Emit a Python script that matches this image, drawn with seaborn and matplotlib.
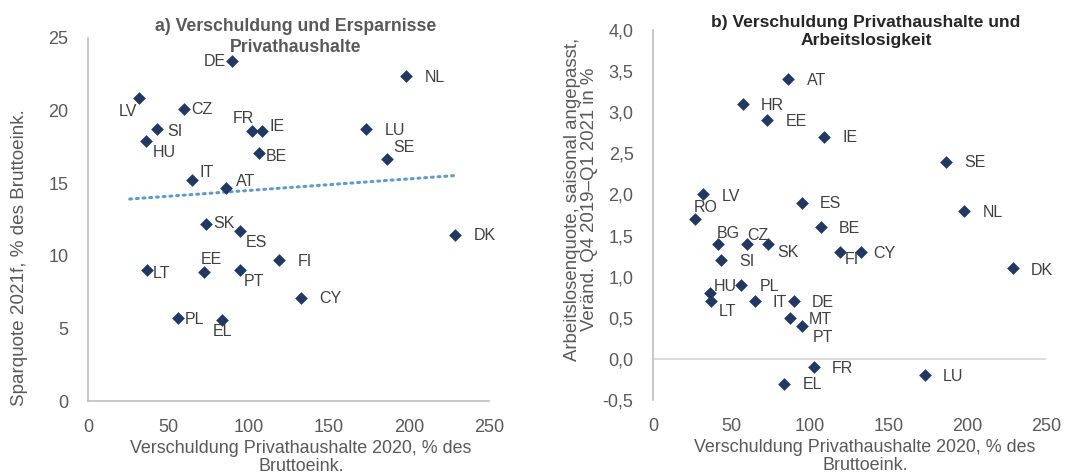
import numpy as np
import pandas as pd
import matplotlib
matplotlib.use("Agg")
import matplotlib.pyplot as plt
from matplotlib.ticker import FuncFormatter
import seaborn as sns

# ---------------- data ----------------
# Panel a) household debt 2020 (% of gross income) vs saving rate 2021f
a_countries = ["DE", "NL", "LV", "CZ", "SI", "HU", "FR", "IE", "LU", "SE", "BE", "IT",
               "AT", "SK", "ES", "DK", "FI", "LT", "EE", "PT", "CY", "PL", "EL"]
a_debt = [89.5, 198.0, 32.0, 59.7, 43.3, 36.0, 102.3, 108.7, 173.3, 186.3, 106.7, 64.9,
          85.8, 73.4, 94.7, 228.7, 118.8, 36.7, 72.6, 94.8, 132.6, 56.0, 83.6]
a_saving = [23.4, 22.4, 20.9, 20.1, 18.7, 17.9, 18.6, 18.6, 18.7, 16.7, 17.1, 15.2,
            14.7, 12.2, 11.7, 11.4, 9.7, 9.0, 8.9, 9.0, 7.1, 5.7, 5.6]

# Panel b) household debt 2020 vs change in unemployment rate Q4 2019 - Q1 2021
b_countries = ["AT", "HR", "EE", "IE", "SE", "LV", "ES", "NL", "RO", "BE", "BG", "CZ",
               "SK", "SI", "FI", "CY", "DK", "HU", "PL", "LT", "IT", "DE", "MT", "PT",
               "FR", "LU", "EL"]
b_debt = [85.8, 57.0, 72.6, 108.7, 186.3, 32.0, 94.7, 198.0, 26.5, 106.7, 41.6, 59.7,
          73.4, 43.3, 118.8, 132.6, 228.7, 36.0, 56.0, 36.7, 64.9, 89.5, 87.2, 94.8,
          102.3, 173.3, 83.6]
b_unemp = [3.4, 3.1, 2.9, 2.7, 2.4, 2.0, 1.9, 1.8, 1.7, 1.6, 1.4, 1.4,
           1.4, 1.2, 1.3, 1.3, 1.1, 0.8, 0.9, 0.7, 0.7, 0.7, 0.5, 0.4,
           -0.1, -0.2, -0.3]

a_title = "a) Verschuldung und Ersparnisse\nPrivathaushalte"
b_title = "b) Verschuldung Privathaushalte und\nArbeitslosigkeit"
xlabel_a = "Verschuldung Privathaushalte 2020, % des\nBruttoeink."
xlabel_b = "Verschuldung Privathaushalte 2020, % des\nBruttoeink."
ylabel_a = "Sparquote 2021f, % des Bruttoeink."
ylabel_b = "Arbeitslosenquote, saisonal angepasst,\nVeränd. Q4 2019\u2013Q1 2021 in %"

# label offsets (pixels, dx right, dy down) -- styling only
a_off = {"DE": (-17, 0), "NL": (29, 2), "LV": (-11, 14), "CZ": (18, 0), "SI": (17, 2),
         "HU": (19, 11), "FR": (-9, -12), "IE": (15, -4), "LU": (29, 1), "SE": (17, -11),
         "BE": (17, 4), "IT": (15, -8), "AT": (20, -6), "SK": (18, 0), "ES": (17, 11),
         "DK": (30, 0), "FI": (26, 1), "LT": (15, 3), "EE": (7, -12), "PT": (14, 11),
         "CY": (30, 1), "PL": (17, 1), "EL": (0, 12)}
b_off = {"AT": (29, 1), "HR": (30, 2), "EE": (29, 1), "IE": (26, 1), "SE": (29, 1),
         "LV": (28, 2), "ES": (29, 1), "NL": (29, 2), "RO": (11, -12), "BE": (29, 1),
         "BG": (10, -10), "CZ": (11, -8), "SK": (20, 9), "SI": (26, 1), "FI": (12, 8),
         "CY": (23, 2), "DK": (29, 2), "HU": (16, -7), "PL": (28, 2), "LT": (17, 10),
         "IT": (25, 1), "DE": (29, 1), "MT": (30, 2), "PT": (21, 11), "FR": (29, 1),
         "LU": (28, 1), "EL": (28, 1)}

# ---------------- style ----------------
sns.set_theme(style="white")
plt.rcParams["font.family"] = ["Liberation Sans", "DejaVu Sans"]

NAVY = "#1f3864"
GRAY = "#595959"
LBL = "#404040"
AXC = "#bfbfbf"
TREND = "#5b9bd5"

W, H = 1087, 474
fig = plt.figure(figsize=(W / 100, H / 100), dpi=100)

def rect(x0, y0, x1, y1):
    return [x0 / W, 1 - y1 / H, (x1 - x0) / W, (y1 - y0) / H]

ax1 = fig.add_axes(rect(88, 38, 489, 401))
ax2 = fig.add_axes(rect(653, 30, 1046, 400))

df_a = pd.DataFrame({"country": a_countries, "debt": a_debt, "saving": a_saving})
df_b = pd.DataFrame({"country": b_countries, "debt": b_debt, "unemp": b_unemp})

# trend line for panel a
coef = np.polyfit(df_a["debt"], df_a["saving"], 1)
xs = np.linspace(df_a["debt"].min() - 6, df_a["debt"].max(), 50)
ax1.plot(xs, np.polyval(coef, xs), color=TREND, lw=2.2, ls=(0, (0.6, 1.6)),
         dash_capstyle="round", zorder=1)

sns.scatterplot(data=df_a, x="debt", y="saving", marker="D", s=42, color=NAVY,
                edgecolor=NAVY, linewidth=0, ax=ax1, zorder=3)
sns.scatterplot(data=df_b, x="debt", y="unemp", marker="D", s=42, color=NAVY,
                edgecolor=NAVY, linewidth=0, ax=ax2, zorder=3)

for c, x, y in zip(a_countries, a_debt, a_saving):
    dx, dy = a_off[c]
    ax1.annotate(c, (x, y), xytext=(dx, -dy), textcoords="offset pixels",
                 ha="center", va="center", fontsize=11.5, color=LBL, zorder=4)
for c, x, y in zip(b_countries, b_debt, b_unemp):
    dx, dy = b_off[c]
    ax2.annotate(c, (x, y), xytext=(dx, -dy), textcoords="offset pixels",
                 ha="center", va="center", fontsize=11.5, color=LBL, zorder=4)

# axes a
ax1.set_xlim(0, 250)
ax1.set_ylim(0, 25)
ax1.set_xticks([0, 50, 100, 150, 200, 250])
ax1.set_yticks([0, 5, 10, 15, 20, 25])
for s in ["top", "right"]:
    ax1.spines[s].set_visible(False)
for s in ["left", "bottom"]:
    ax1.spines[s].set_color(AXC)
    ax1.spines[s].set_linewidth(1.2)

# axes b
ax2.set_xlim(0, 250)
ax2.set_ylim(-0.5, 4.0)
ax2.set_xticks([0, 50, 100, 150, 200, 250])
ax2.set_yticks(np.arange(-0.5, 4.01, 0.5))
ax2.yaxis.set_major_formatter(FuncFormatter(lambda v, p: f"{v:.1f}".replace(".", ",")))
for s in ["top", "right", "bottom"]:
    ax2.spines[s].set_visible(False)
ax2.spines["left"].set_color(AXC)
ax2.spines["left"].set_linewidth(1.2)
ax2.axhline(0, color="#d9d9d9", lw=1.3, zorder=0)

for ax in (ax1, ax2):
    ax.tick_params(axis="both", length=0, labelsize=13, labelcolor=GRAY)
    ax.tick_params(axis="x", pad=13)
    ax.tick_params(axis="y", pad=14)
    ax.set_xlabel("")
    ax.set_ylabel("")
    ax.grid(False)
    ax.set_facecolor("none")

# x axis labels (kept fully inside the figure)
fig.text(301 / W, 1 - 440 / H, xlabel_a, ha="center", va="top", fontsize=12.9,
         color=GRAY, linespacing=1.08)
fig.text(865 / W, 1 - 439 / H, xlabel_b, ha="center", va="top", fontsize=12.9,
         color=GRAY, linespacing=1.08)

fig.text(20 / W, 1 - 258 / H, ylabel_a, ha="center", va="center", rotation=90,
         fontsize=13.6, color=GRAY)
fig.text(581 / W, 1 - 199 / H, ylabel_b, ha="center", va="center", rotation=90,
         fontsize=13.4, color=GRAY, linespacing=1.0)

fig.text(296 / W, 1 - 37 / H, a_title, ha="center", va="center", fontsize=12.7,
         fontweight="bold", color=GRAY, linespacing=1.25)
fig.text(866 / W, 1 - 32 / H, b_title, ha="center", va="center", fontsize=12.6,
         fontweight="bold", color="#262626", linespacing=1.25)

fig.savefig("out.png", dpi=100)
